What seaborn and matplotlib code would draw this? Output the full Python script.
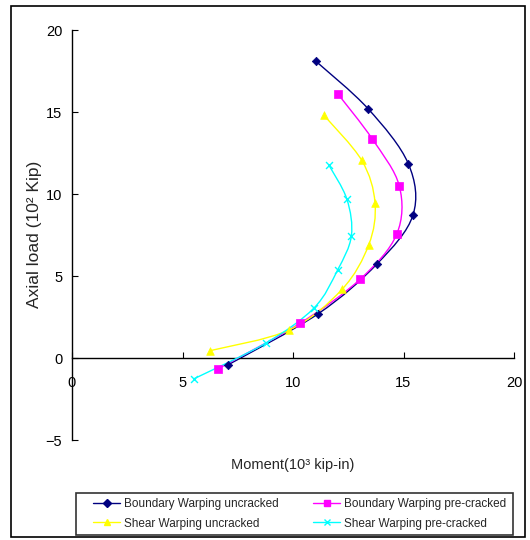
import numpy as np
import pandas as pd
import matplotlib
matplotlib.use("Agg")
import matplotlib.pyplot as plt
from matplotlib.path import Path
from matplotlib.patches import PathPatch, Rectangle
from matplotlib.lines import Line2D
import seaborn as sns

# ---- data ----
series_names = ["Boundary Warping uncracked", "Boundary Warping pre-cracked",
                "Shear Warping uncracked", "Shear Warping pre-cracked"]
bw_unc_x = [11.04, 13.41, 15.22, 15.43, 13.81, 11.13, 7.07]
bw_unc_y = [18.09, 15.18, 11.84, 8.72, 5.75, 2.69, -0.41]
bw_pre_x = [12.02, 13.59, 14.81, 14.69, 13.05, 10.32, 6.62]
bw_pre_y = [16.12, 13.35, 10.49, 7.54, 4.82, 2.12, -0.65]
sw_unc_x = [11.40, 13.11, 13.71, 13.43, 12.22, 9.83, 6.26]
sw_unc_y = [14.80, 12.05, 9.47, 6.91, 4.19, 1.71, 0.45]
sw_pre_x = [11.62, 12.44, 12.64, 12.02, 10.95, 8.76, 5.53]
sw_pre_y = [11.77, 9.68, 7.44, 5.37, 3.05, 0.90, -1.26]
x_ticks = [0, 5, 10, 15, 20]
y_ticks = [-5, 0, 5, 10, 15, 20]

colors = ["#000080", "#FF00FF", "#FFFF00", "#00FFFF"]
markers = ["D", "s", "^", "x"]
msizes = [4.3, 5.5, 5.5, 5.0]
xs = [bw_unc_x, bw_pre_x, sw_unc_x, sw_pre_x]
ys = [bw_unc_y, bw_pre_y, sw_unc_y, sw_pre_y]

frames = []
for name, x, y in zip(series_names, xs, ys):
    frames.append(pd.DataFrame({"Moment": x, "Axial": y, "Series": name}))
df = pd.concat(frames, ignore_index=True)

sns.set_style("white")
plt.rcParams["font.family"] = ["Liberation Sans", "DejaVu Sans"]

W, H = 530, 540
fig = plt.figure(figsize=(W / 100, H / 100), dpi=100)
ax = fig.add_axes([72 / W, 1 - 440 / H, (514 - 72) / W, (440 - 30) / H])
ax.set_facecolor("white")


def smooth_path(x, y):
    # Excel-style smoothed line: cubic Bezier through the data points
    pts = np.column_stack([x, y]).astype(float)
    n = len(pts)
    verts = [pts[0]]
    codes = [Path.MOVETO]
    for i in range(n - 1):
        p0 = pts[i - 1] if i > 0 else pts[i]
        p1 = pts[i]
        p2 = pts[i + 1]
        p3 = pts[i + 2] if i + 2 < n else pts[i + 1]
        c1 = p1 + (p2 - p0) / 6.0
        c2 = p2 - (p3 - p1) / 6.0
        verts += [c1, c2, p2]
        codes += [Path.CURVE4] * 3
    return Path(verts, codes)


for i, name in enumerate(series_names):
    sub = df[df["Series"] == name]
    ax.add_patch(PathPatch(smooth_path(sub["Moment"], sub["Axial"]), facecolor="none",
                           edgecolor=colors[i], lw=1.0, zorder=2 + i))

for i, name in enumerate(series_names):
    sub = df[df["Series"] == name]
    kw = dict(color=colors[i], marker=markers[i], s=msizes[i] ** 2, zorder=6 + i, legend=False)
    if markers[i] == "x":
        kw.update(linewidth=1.0)
    else:
        kw.update(edgecolor=colors[i], linewidth=0.5)
    sns.scatterplot(data=sub, x="Moment", y="Axial", ax=ax, **kw)

ax.set_xlim(0, 20)
ax.set_ylim(-5, 20)
ax.set_xticks(x_ticks)
ax.set_yticks(y_ticks)
ax.set_xticklabels([str(t) for t in x_ticks])
ax.set_yticklabels([("\u22125" if t < 0 else str(t)) for t in y_ticks])
ax.set_xlabel("")
ax.set_ylabel("")
for s in ["top", "right"]:
    ax.spines[s].set_visible(False)
ax.spines["bottom"].set_position(("data", 0))
for s in ["left", "bottom"]:
    ax.spines[s].set_color("black")
    ax.spines[s].set_linewidth(1.0)
ax.tick_params(axis="x", direction="in", length=4, width=0.8, pad=13, labelsize=10.5, colors="black")
ax.tick_params(axis="y", direction="in", length=4, width=0.8, pad=7, labelsize=10.5, colors="black")
ax.tick_params(bottom=True, left=True)
ax.grid(False)

fig.text(293 / W, 1 - 465 / H, "Moment(10\u00b3 kip-in)", ha="center", va="center", fontsize=10.5)
fig.text(35 / W, 1 - 234 / H, "Axial load (10\u00b2 Kip)", ha="center", va="center",
         rotation=90, fontsize=12.5)

# legend: row-wise order like the reference (matplotlib fills columns first)
order = [0, 2, 1, 3]
handles = []
for i in order:
    handles.append(Line2D([0], [0], color=colors[i], lw=1.0, marker=markers[i],
                          markersize=msizes[i] * 0.9, markeredgecolor=colors[i]))
labels = [series_names[i] for i in order]
fs = 8.5
leg = fig.legend(handles, labels, ncol=2, loc="upper left",
                 bbox_to_anchor=(93 / W, 1 - 498.5 / H),
                 fontsize=fs, frameon=False, handlelength=2.3,
                 handletextpad=0.35, borderpad=0, labelspacing=0.6,
                 columnspacing=2.9, borderaxespad=0)

fig.patches.append(Rectangle((76 / W, 1 - 535 / H), (513 - 76) / W, (535 - 493) / H,
                             transform=fig.transFigure, fill=False, edgecolor="#333333",
                             lw=1.2, zorder=0))
fig.patches.append(Rectangle((11 / W, 1 - 537 / H), (525 - 11) / W, (537 - 6) / H,
                             transform=fig.transFigure, fill=False, edgecolor="black",
                             lw=1.2, zorder=0))

fig.savefig("out.png", dpi=100, facecolor="white")
